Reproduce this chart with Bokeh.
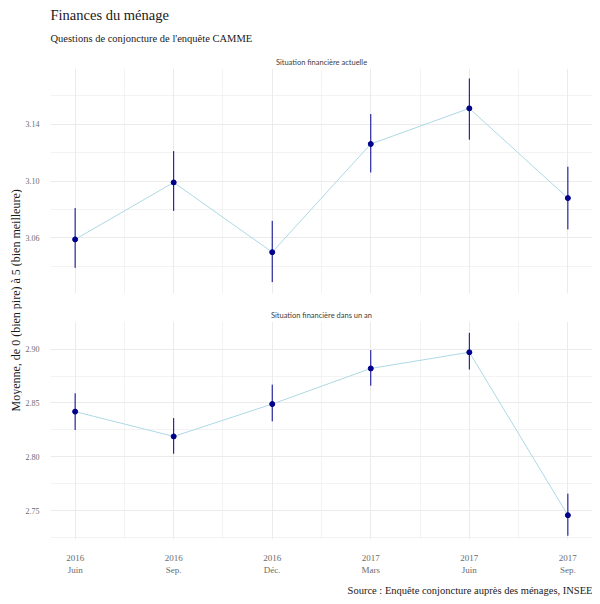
from bokeh.plotting import figure
from bokeh.layouts import row, column
from bokeh.models import Range1d, FixedTicker, PrintfTickFormatter, Title, Label, ColumnDataSource, Spacer
from bokeh.embed import file_html
from bokeh.resources import INLINE

# ---- data ----
periods = ["2016-06", "2016-09", "2016-12", "2017-03", "2017-06", "2017-09"]
tick_labels = ["2016\nJuin", "2016\nSep.", "2016\nDéc.", "2017\nMars", "2017\nJuin", "2017\nSep."]

actuelle = [3.059, 3.099, 3.050, 3.126, 3.151, 3.088]
actuelle_low = [3.039, 3.079, 3.029, 3.106, 3.129, 3.066]
actuelle_high = [3.081, 3.121, 3.072, 3.147, 3.172, 3.110]

dans_un_an = [2.842, 2.819, 2.849, 2.882, 2.897, 2.746]
dans_un_an_low = [2.825, 2.803, 2.833, 2.866, 2.881, 2.727]
dans_un_an_high = [2.859, 2.836, 2.867, 2.899, 2.915, 2.766]

top_ticks = [3.06, 3.10, 3.14]
top_minor = [3.04, 3.08, 3.12, 3.16]
bot_ticks = [2.75, 2.80, 2.85, 2.90]
bot_minor = [2.725, 2.775, 2.825, 2.875]

xs = list(range(len(periods)))
x_minor = [i + 0.5 for i in xs[:-1]]

SERIF = "Liberation Serif"
SANS = "Lato"
GRID = "#EBEBEB"
TICKCOL = "#6b6b6b"


def style(p, yt, ym):
    p.outline_line_color = None
    p.background_fill_color = "white"
    p.border_fill_color = "white"
    p.xgrid.ticker = FixedTicker(ticks=xs, minor_ticks=x_minor)
    p.ygrid.ticker = FixedTicker(ticks=yt, minor_ticks=ym)
    for g in (p.xgrid, p.ygrid):
        g.grid_line_color = GRID
        g.grid_line_width = 1
        g.minor_grid_line_color = GRID
        g.minor_grid_line_width = 0.6
    ax = p.yaxis[0]
    ax.ticker = FixedTicker(ticks=yt, minor_ticks=ym)
    ax.formatter = PrintfTickFormatter(format="%.2f")
    ax.axis_line_color = None
    ax.major_tick_line_color = None
    ax.minor_tick_line_color = None
    ax.major_label_text_font = SERIF
    ax.major_label_text_font_size = "8px"
    ax.major_label_text_color = TICKCOL
    ax.major_label_standoff = 5


def strip(text):
    return Title(text=text, align="center", text_font=SANS, text_font_size="7.5px",
                 text_font_style="normal", text_color="#404040", standoff=3)


def draw(p, vals, lo, hi):
    src = ColumnDataSource(dict(x=xs, y=vals, lo=lo, hi=hi))
    p.line("x", "y", source=src, line_color="lightblue", line_width=1)
    p.segment("x", "lo", "x", "hi", source=src, line_color="darkblue", line_width=1)
    p.scatter("x", "y", source=src, size=5, fill_color="darkblue", line_color="darkblue")


# ---- top panel ----
p1 = figure(frame_width=542, frame_height=225, output_backend="svg", toolbar_location=None,
            x_range=Range1d(-0.25, 5.25), y_range=Range1d(3.021, 3.179),
            x_axis_location=None, min_border_left=20, min_border_right=0,
            min_border_bottom=14, min_border_top=0)
p1.title.text = "Finances du ménage"
p1.title.align = "left"
p1.title.text_font = SERIF
p1.title.text_font_size = "14.5px"
p1.title.text_font_style = "normal"
p1.title.text_color = "#1a1a1a"
p1.title.standoff = -7
p1.add_layout(strip("Situation financière actuelle"), "above")
p1.add_layout(Title(text="Questions de conjoncture de l'enquête CAMME", text_font=SERIF,
                    text_font_size="10.5px", text_font_style="normal", align="left",
                    text_color="#1a1a1a", standoff=22), "above")
style(p1, top_ticks, top_minor)
draw(p1, actuelle, actuelle_low, actuelle_high)

# ---- bottom panel ----
p2 = figure(frame_width=542, frame_height=218, output_backend="svg", toolbar_location=None,
            x_range=p1.x_range, y_range=Range1d(2.7235, 2.9255),
            min_border_left=20, min_border_right=0, min_border_top=0, min_border_bottom=0)
p2.title.text = "Situation financière dans un an"
p2.title.align = "center"
p2.title.text_font = SANS
p2.title.text_font_size = "7.5px"
p2.title.text_font_style = "normal"
p2.title.text_color = "#404040"
p2.title.standoff = 3
style(p2, bot_ticks, bot_minor)
xa = p2.xaxis[0]
xa.ticker = FixedTicker(ticks=xs, minor_ticks=x_minor)
xa.major_label_overrides = {i: t for i, t in zip(xs, tick_labels)}
xa.axis_line_color = None
xa.major_tick_line_color = None
xa.minor_tick_line_color = None
xa.major_label_text_font = SERIF
xa.major_label_text_font_size = "9px"
xa.major_label_text_color = TICKCOL
xa.major_label_standoff = 7
p2.add_layout(Title(text="Source : Enquête conjoncture auprès des ménages, INSEE",
                    text_font=SERIF, text_font_size="10.5px", text_font_style="normal",
                    text_color="#1a1a1a", align="right", standoff=10), "below")
draw(p2, dans_un_an, dans_un_an_low, dans_un_an_high)

# ---- shared y label ----
pl = figure(width=22, height=588, output_backend="svg", toolbar_location=None,
            x_range=Range1d(0, 1), y_range=Range1d(0, 1),
            x_axis_location=None, y_axis_location=None,
            min_border=0)
pl.outline_line_color = None
pl.grid.visible = False
pl.add_layout(Label(x=0.7, y=0.49, text="Moyenne, de 0 (bien pire) à 5 (bien meilleure)",
                    angle=90, angle_units="deg", text_align="center", text_baseline="middle",
                    text_font=SERIF, text_font_size="12px", text_color="#1a1a1a"))

layout = row(pl, column(Spacer(width=562, height=8), p1, p2))
open("out.html", "w").write(file_html(layout, INLINE))
